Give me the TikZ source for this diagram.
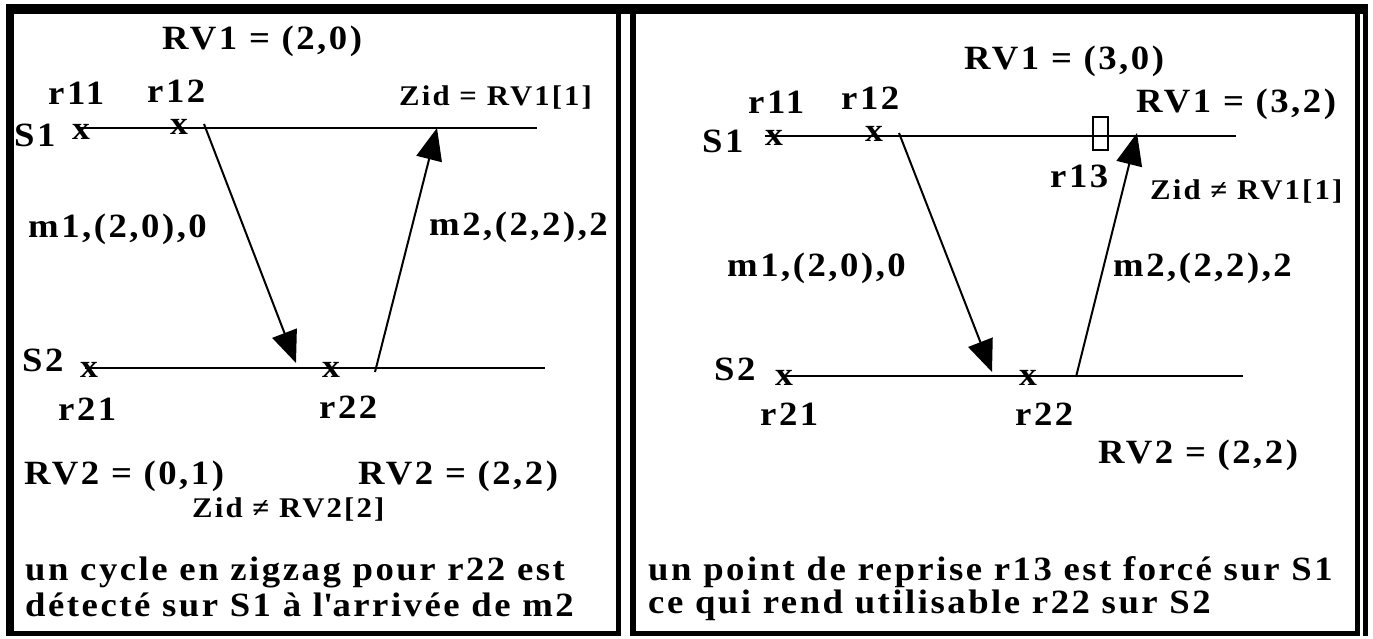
\documentclass[tikz,border=0pt]{standalone}
\usepackage{fontspec}
\setmainfont{Liberation Serif}[FakeStretch=1.08, LetterSpace=7.4]
\usetikzlibrary{arrows.meta}
\tikzset{
  big/.style={font=\bfseries\fontsize{34}{36}\selectfont, inner sep=0pt, anchor=base west},
  lbl/.style={big, text depth=0pt},
  small/.style={font=\bfseries\fontsize{28.5}{31}\selectfont, inner sep=0pt, anchor=base west},
  ckpt/.style={font=\bfseries\fontsize{33}{33}\selectfont, inner sep=0pt, anchor=base, text height=0.9ex, text depth=0pt},
  proc/.style={line width=2.6pt},
  msg/.style={line width=2pt, -{Triangle[length=32pt,width=26pt]}},
  frame/.style={fill=black},
}
\begin{document}
\begin{tikzpicture}[x=1pt,y=-1pt]
\useasboundingbox (0,0) rectangle (1373,639);
% frames
\fill[frame] (6,4) rectangle (1368,14);
\fill[frame] (6,4) rectangle (14,636);
\fill[frame] (6,631) rectangle (621,636);
\fill[frame] (616,4) rectangle (621,636);
\fill[frame] (630,4) rectangle (636,636);
\fill[frame] (630,631) rectangle (1360,636);
\fill[frame] (1355,4) rectangle (1360,636);
\fill[frame] (1363,4) rectangle (1368,636);

% ---------- left panel ----------
\node[big] (lrv1) at (162,50) {RV1 = (2,0)};
\node[lbl] (lr11) at (48,105) {r11};
\node[lbl] (lr12) at (147,103) {r12};
\node[small] (lzid1) at (399,106) {Zid = RV1[1]};
\node[big] (ls1) at (14,147) {S1};
\coordinate (ls1a) at (77,128);
\coordinate (ls1b) at (537,128);
\draw[proc] (ls1a) -- (ls1b);
\node[ckpt] (lx11) at (81,140) {x};
\node[ckpt] (lx12) at (179,135) {x};
\coordinate (lm1s) at (204,124);
\coordinate (lm1e) at (296,363);
\coordinate (lm2s) at (375,372);
\coordinate (lm2e) at (437,128);
\draw[msg] (lm1s) -- (lm1e);
\draw[msg] (lm2s) -- (lm2e);
\node[big] (lm1) at (28,237) {m1,(2,0),0};
\node[big] (lm2) at (429,235) {m2,(2,2),2};
\node[big] (ls2) at (22,371) {S2};
\coordinate (ls2a) at (85,368);
\coordinate (ls2b) at (545,368);
\draw[proc] (ls2a) -- (ls2b);
\node[ckpt] (lx21) at (89,377) {x};
\node[ckpt] (lx22) at (331,377) {x};
\node[big] (lr21) at (58,420) {r21};
\node[big] (lr22) at (319,418) {r22};
\node[big] (lrv2a) at (24,484) {RV2 = (0,1)};
\node[big] (lrv2b) at (358,484) {RV2 = (2,2)};
\node[small] (lzid2) at (192,517) {Zid ≠ RV2[2]};
\node[big] (lt1) at (25,580) {un cycle en zigzag pour r22 est};
\node[big] (lt2) at (25,616) {détecté sur S1 à l\textquotesingle arrivée de m2};

% ---------- right panel ----------
\node[big] (rrv1a) at (964,70) {RV1 = (3,0)};
\node[lbl] (rr11) at (748,114) {r11};
\node[lbl] (rr12) at (841,110) {r12};
\node[big] (rrv1b) at (1136,113) {RV1 = (3,2)};
\node[big] (rs1) at (702,153) {S1};
\coordinate (rs1a) at (765,136);
\coordinate (rs1b) at (1236,136);
\draw[proc] (rs1a) -- (rs1b);
\node[ckpt] (rx11) at (774,146) {x};
\node[ckpt] (rx12) at (874,142) {x};
\node[draw, line width=2pt, minimum width=15pt, minimum height=33pt, inner sep=0pt] (r13box) at (1100,133.5) {};
\node[big] (rr13) at (1050,188) {r13};
\node[small] (rzid1) at (1150,200) {Zid ≠ RV1[1]};
\coordinate (rm1s) at (899,133);
\coordinate (rm1e) at (992,372);
\coordinate (rm2s) at (1076,377);
\coordinate (rm2e) at (1137,133);
\draw[msg] (rm1s) -- (rm1e);
\draw[msg] (rm2s) -- (rm2e);
\node[big] (rm1) at (727,276) {m1,(2,0),0};
\node[big] (rm2) at (1113,276) {m2,(2,2),2};
\node[big] (rs2) at (714,380) {S2};
\coordinate (rs2a) at (785,376);
\coordinate (rs2b) at (1243,376);
\draw[proc] (rs2a) -- (rs2b);
\node[ckpt] (rx21) at (784,385) {x};
\node[ckpt] (rx22) at (1028,385) {x};
\node[big] (rr21) at (760,425) {r21};
\node[big] (rr22) at (1015,425) {r22};
\node[big] (rrv2) at (1098,463) {RV2 = (2,2)};
\node[big] (rt1) at (648,580) {un point de reprise r13 est forcé sur S1};
\node[big] (rt2) at (648,613) {ce qui rend utilisable r22 sur S2};
\end{tikzpicture}
\end{document}
